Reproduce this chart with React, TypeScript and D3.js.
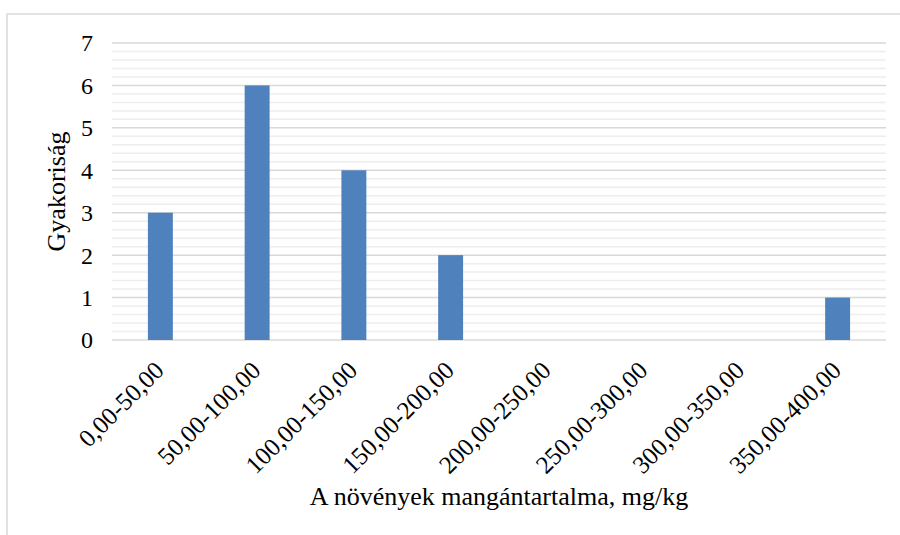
import React from "react";
import * as d3 from "d3";

// Histogram: frequency of manganese content ranges in plants
const categories = [
  "0,00-50,00",
  "50,00-100,00",
  "100,00-150,00",
  "150,00-200,00",
  "200,00-250,00",
  "250,00-300,00",
  "300,00-350,00",
  "350,00-400,00",
];
const frequencies = [3, 6, 4, 2, 0, 0, 0, 1];
const yTicks = [0, 1, 2, 3, 4, 5, 6, 7];
const xTitle = "A növények mangántartalma, mg/kg";
const yTitle = "Gyakoriság";

const W = 900;
const H = 535;
const plot = { left: 112, right: 886, top: 43, bottom: 340 };
const FONT = "Liberation Serif, DejaVu Serif, serif";
const BAR = "#4f81bd";

export default function App() {
  const x = d3
    .scaleBand<string>()
    .domain(categories)
    .range([plot.left, plot.right])
    .paddingInner(0.742)
    .paddingOuter(0.371);
  const y = d3.scaleLinear().domain([0, 7]).range([plot.bottom, plot.top]);
  const minorTicks = d3.range(0, 7.0001, 0.2).filter((v) => Math.abs(v - Math.round(v)) > 1e-6);
  const textStyle = { fontFamily: FONT };

  return (
    <svg
      width={W}
      height={H}
      style={{ position: "absolute", left: 0, top: 0, background: "#fff", fontFamily: FONT }}
    >
      {/* chart frame */}
      <rect x={7} y={14} width={W + 20} height={H + 20} fill="#fff" stroke="#d9d9d9" strokeWidth={1.5} />

      {/* minor gridlines */}
      {minorTicks.map((v) => (
        <line
          key={"m" + v}
          x1={plot.left}
          x2={plot.right}
          y1={y(v)}
          y2={y(v)}
          stroke="#eeeeee"
          strokeWidth={1.5}
        />
      ))}
      {/* major gridlines */}
      {yTicks.map((v) => (
        <line
          key={"g" + v}
          x1={plot.left}
          x2={plot.right}
          y1={y(v)}
          y2={y(v)}
          stroke="#d9d9d9"
          strokeWidth={1.5}
        />
      ))}

      {/* bars */}
      {categories.map((c, i) => (
        <rect
          key={c}
          x={x(c)}
          y={y(frequencies[i])}
          width={x.bandwidth()}
          height={y(0) - y(frequencies[i])}
          fill={BAR}
        />
      ))}

      {/* y tick labels */}
      {yTicks.map((v) => (
        <text
          key={"t" + v}
          x={93}
          y={y(v)}
          dy="0.35em"
          textAnchor="end"
          fontSize={24}
          fill="#000"
          style={textStyle}
        >
          {v}
        </text>
      ))}

      {/* x tick labels */}
      {categories.map((c) => {
        const cx = (x(c) ?? 0) + x.bandwidth() / 2 + 5;
        const cy = 372;
        return (
          <text
            key={"x" + c}
            transform={`translate(${cx},${cy}) rotate(-45)`}
            textAnchor="end"
            fontSize={25}
            fill="#000"
            style={textStyle}
          >
            {c}
          </text>
        );
      })}

      {/* axis titles */}
      <text
        x={(plot.left + plot.right) / 2}
        y={505}
        textAnchor="middle"
        fontSize={26}
        fill="#000"
        style={textStyle}
      >
        {xTitle}
      </text>
      <text
        transform={`translate(65,${(plot.top + plot.bottom) / 2}) rotate(-90)`}
        textAnchor="middle"
        fontSize={26}
        fill="#000"
        style={textStyle}
      >
        {yTitle}
      </text>
    </svg>
  );
}
